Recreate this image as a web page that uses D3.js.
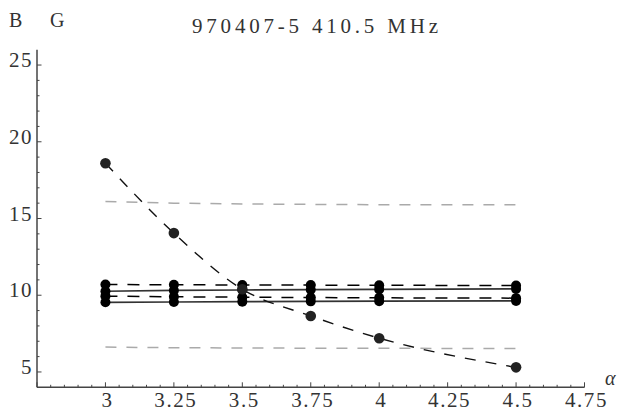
<!DOCTYPE html>
<html>
<head>
<meta charset="utf-8">
<script src="https://cdn.jsdelivr.net/npm/d3@7"></script>
<style>
  body { margin: 0; background: #fff; }
  text { font-family: "Liberation Serif", "DejaVu Serif", serif; fill: #333; }
</style>
</head>
<body>
<div class="canva"></div>
<script>
// data
const alphas = [3, 3.25, 3.5, 3.75, 4, 4.5];
const dashTop = [10.70, 10.68, 10.67, 10.66, 10.65, 10.63];
const solidTop = [10.26, 10.31, 10.34, 10.36, 10.38, 10.41];
const dashLow = [9.94, 9.90, 9.87, 9.85, 9.83, 9.81];
const solidLow = [9.54, 9.56, 9.58, 9.60, 9.61, 9.63];
const fallCurve = [18.6, 14.05, 10.39, 8.65, 7.2, 5.3];
const grayTop = [16.1, 16.0, 15.95, 15.92, 15.9, 15.89];
const grayLow = [6.62, 6.58, 6.56, 6.55, 6.54, 6.53];
const xTicks = [3, 3.25, 3.5, 3.75, 4, 4.25, 4.5, 4.75];
const yTicks = [5, 10, 15, 20, 25];

const canvas = d3.select(".canva");
const svg = canvas.append("svg")
            .attr("width", 620)
            .attr("height", 412);

const x = d3.scaleLinear().domain([2.75, 4.75]).range([37, 584.5]);
const y = d3.scaleLinear().domain([4, 26]).range([387.3, 49.7]);

const axisColor = "#444";

// axes lines
svg.append("line")
   .attr("x1", x(2.75)).attr("x2", x(4.75))
   .attr("y1", y(4)).attr("y2", y(4))
   .attr("stroke", axisColor).attr("stroke-width", 1.5);
svg.append("line")
   .attr("x1", x(2.75)).attr("x2", x(2.75))
   .attr("y1", y(4)).attr("y2", y(26))
   .attr("stroke", axisColor).attr("stroke-width", 1.5);

// minor + major ticks on x
const xMinor = d3.range(56).map(i => 2.75 + i * 0.05).filter(v => v <= 4.751);
svg.append("g").selectAll("line")
   .data(xMinor)
   .join("line")
   .attr("x1", d => x(d)).attr("x2", d => x(d))
   .attr("y1", y(4))
   .attr("y2", d => y(4) - (Math.abs(d * 4 - Math.round(d * 4)) < 1e-6 ? 5 : 2.5))
   .attr("stroke", axisColor).attr("stroke-width", 1);

// minor + major ticks on y
const yMinor = d3.range(5, 26);
svg.append("g").selectAll("line")
   .data(yMinor)
   .join("line")
   .attr("x1", x(2.75))
   .attr("x2", d => x(2.75) + (d % 5 === 0 ? 4.5 : 2.5))
   .attr("y1", d => y(d)).attr("y2", d => y(d))
   .attr("stroke", axisColor).attr("stroke-width", 1);

// tick labels
svg.append("g").selectAll("text")
   .data(xTicks)
   .join("text")
   .attr("x", d => x(d) + 2)
   .attr("y", 407)
   .attr("text-anchor", "middle")
   .attr("font-size", 21)
   .attr("letter-spacing", 1.6)
   .text(d => d);

svg.append("g").selectAll("text")
   .data(yTicks)
   .join("text")
   .attr("x", 33)
   .attr("y", d => y(d) + 2)
   .attr("text-anchor", "end")
   .attr("font-size", 21)
   .attr("letter-spacing", 1.5)
   .text(d => d);

// titles
svg.append("text")
   .attr("x", 192).attr("y", 33)
   .attr("font-size", 21)
   .attr("textLength", 246)
   .attr("lengthAdjust", "spacing")
   .text("970407-5 410.5 MHz");
svg.append("text")
   .attr("x", 9).attr("y", 27)
   .attr("font-size", 20)
   .text("B");
svg.append("text")
   .attr("x", 50).attr("y", 27)
   .attr("font-size", 20)
   .text("G");
svg.append("text")
   .attr("x", 605).attr("y", 385)
   .attr("font-size", 20)
   .attr("font-style", "italic")
   .text("α");

// lines
const flatLine = d3.line()
                   .x(d => x(d[0]))
                   .y(d => y(d[1]));
const smoothLine = d3.line()
                     .x(d => x(d[0]))
                     .y(d => y(d[1]))
                     .curve(d3.curveMonotoneX);

const series = [
  {vals: grayTop, color: "#aaa", dash: "11,10", width: 1.5},
  {vals: grayLow, color: "#aaa", dash: "11,10", width: 1.5},
  {vals: solidTop, color: "#333", dash: null, width: 1.7},
  {vals: solidLow, color: "#333", dash: null, width: 1.7},
  {vals: dashTop, color: "#000", dash: "12,10", width: 1.5},
  {vals: dashLow, color: "#000", dash: "12,10", width: 1.5}
];

series.forEach(s => {
  svg.append("path")
     .datum(alphas.map((a, i) => [a, s.vals[i]]))
     .attr("d", flatLine)
     .attr("fill", "none")
     .attr("stroke", s.color)
     .attr("stroke-width", s.width)
     .attr("stroke-dasharray", s.dash);
});

svg.append("path")
   .datum(alphas.map((a, i) => [a, fallCurve[i]]))
   .attr("d", smoothLine)
   .attr("fill", "none")
   .attr("stroke", "#111")
   .attr("stroke-width", 1.4)
   .attr("stroke-dasharray", "11,10");

// dots on the flat lines
[dashTop, solidTop, dashLow, solidLow].forEach(vals => {
  svg.append("g").selectAll("circle")
     .data(alphas.map((a, i) => [a, vals[i]]))
     .join("circle")
     .attr("cx", d => x(d[0]))
     .attr("cy", d => y(d[1]))
     .attr("r", 5)
     .attr("fill", "#000");
});

// dots on the falling curve
svg.append("g").selectAll("circle")
   .data(alphas.map((a, i) => [a, fallCurve[i]]))
   .join("circle")
   .attr("cx", d => x(d[0]))
   .attr("cy", d => y(d[1]))
   .attr("r", 5.3)
   .attr("fill", "#222");
</script>
</body>
</html>
